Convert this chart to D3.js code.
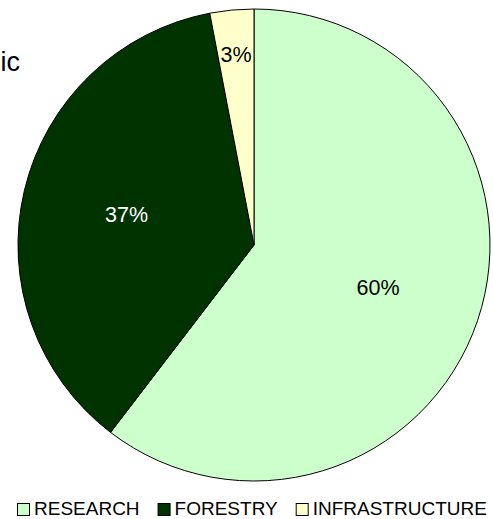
<!DOCTYPE html>
<html>
<head>
<meta charset="utf-8">
<script src="https://cdn.jsdelivr.net/npm/d3@7"></script>
<style>
  body { margin: 0; background: #fff; }
  svg { display: block; font-family: "Liberation Sans", Arial, sans-serif; }
</style>
</head>
<body>
<div id="chart"></div>
<script>
var categories = ["RESEARCH", "FORESTRY", "INFRASTRUCTURE"],
    values = [60.4, 36.6, 3.0],
    colors = ["#ccffcc", "#003300", "#ffffcc"],
    labelColors = ["#000", "#fff", "#000"];

var w = 493,
    h = 519,
    cx = 254,
    cy = 245,
    r = 236;

var svg = d3.select("#chart").append("svg")
    .attr("width", w)
    .attr("height", h);

// clipped title remnant at the left edge
svg.append("text")
    .attr("x", 20)
    .attr("y", 71)
    .attr("text-anchor", "end")
    .style("font-size", "27px")
    .text("ic");

var pie = d3.pie().sort(null).value(function(d) { return d; });
var arcs = pie(values);

var arc = d3.arc().innerRadius(0).outerRadius(r);

var g = svg.append("g")
    .attr("transform", "translate(" + cx + "," + cy + ")");

g.selectAll("path")
    .data(arcs)
  .enter().append("path")
    .attr("d", arc)
    .attr("fill", function(d, i) { return colors[i]; })
    .attr("stroke", "#000")
    .attr("stroke-width", 1);

var totalValue = d3.sum(values);

g.selectAll("text.lbl")
    .data(arcs)
  .enter().append("text")
    .attr("class", "lbl")
    .attr("transform", function(d) {
      var small = d.value / totalValue < 0.05;
      var rr = small ? r * 0.81 : r * 0.555;
      var a = (d.startAngle + d.endAngle) / 2;
      return "translate(" + (Math.sin(a) * rr) + "," + (-Math.cos(a) * rr) + ")";
    })
    .attr("dy", "0.35em")
    .attr("text-anchor", "middle")
    .attr("fill", function(d, i) { return labelColors[i]; })
    .style("font-size", "21.5px")
    .text(function(d) { return Math.round(d.value / totalValue * 100) + "%"; });

// legend
var legend = svg.append("g").style("font-size", "19px");
var x = 17;
categories.forEach(function(c, i) {
  legend.append("rect")
      .attr("x", x + 0.5)
      .attr("y", 503.5)
      .attr("width", 12)
      .attr("height", 12)
      .attr("fill", colors[i])
      .attr("stroke", "#000")
      .attr("stroke-width", 1);
  var t = legend.append("text")
      .attr("x", x + 17)
      .attr("y", 515)
      .text(c);
  x += 17 + t.node().getComputedTextLength() + 18;
});
</script>
</body>
</html>
